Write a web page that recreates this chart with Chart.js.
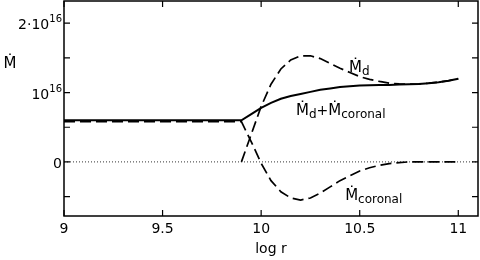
<!DOCTYPE html>
<html>
<head>
<meta charset="utf-8">
<script src="https://cdn.jsdelivr.net/npm/chart.js@4/dist/chart.umd.min.js"></script>
<style>
  html, body { margin: 0; padding: 0; background: #fff; }
  #wrap { width: 480px; height: 260px; }
</style>
</head>
<body>
<div id="wrap"><canvas id="mdotChart"></canvas></div>
<script>
// accretion rates, in units of 1e16
const logR = [9.0, 9.9, 9.95, 10.0, 10.05, 10.1, 10.15, 10.2, 10.25, 10.3, 10.35, 10.4, 10.45, 10.5, 10.55, 10.6, 10.65, 10.7, 10.75, 10.8, 10.85, 10.9, 10.95, 11.0];
const mdotTotal = [0.6, 0.6, 0.69, 0.78, 0.85, 0.91, 0.95, 0.98, 1.01, 1.04, 1.06, 1.08, 1.09, 1.10, 1.105, 1.11, 1.11, 1.115, 1.12, 1.125, 1.135, 1.15, 1.17, 1.20];
const mdotDisk = [null, 0, 0.4, 0.8, 1.12, 1.34, 1.47, 1.53, 1.53, 1.49, 1.42, 1.35, 1.29, 1.23, 1.19, 1.16, 1.135, 1.125, 1.12, 1.125, 1.135, 1.15, 1.17, 1.20];
const mdotCoronal = [0.58, 0.58, 0.29, -0.02, -0.27, -0.43, -0.52, -0.55, -0.52, -0.45, -0.36, -0.27, -0.2, -0.13, -0.085, -0.05, -0.025, -0.01, 0, 0, 0, 0, 0, 0];

const xRange = [9, 11.1];
const yRange = [-0.78, 2.32];
const xTicks = [9, 9.5, 10, 10.5, 11];
const yTicks = [-0.5, 0, 0.5, 1, 1.5, 2];
const yLabelValues = [0, 1, 2];
const yLabelBase = ['0', '10', '2\u00b710'];
const yLabelSup = ['', '16', '16'];
const zeroLine = [0, 0];

const FONT = '"DejaVu Sans", sans-serif';
const points = ys => logR.map((x, i) => ({ x, y: ys[i] }));

// M-dot with a subscript, returns x where it ends
function mdot(ctx, px, py, sub, size, subSize) {
    ctx.font = `${size}px ${FONT}`;
    ctx.fillText('\u1e40', px, py);
    const w = ctx.measureText('\u1e40').width;
    if (!sub) return px + w;
    ctx.font = `${subSize}px ${FONT}`;
    ctx.fillText(sub, px + w, py + 2.5);
    return px + w + ctx.measureText(sub).width;
}

const framePlugin = {
    id: 'frame',
    afterDatasetsDraw(chart) {
        const { ctx, chartArea: a, scales: { x, y } } = chart;
        ctx.save();
        ctx.strokeStyle = '#000';
        ctx.fillStyle = '#000';

        // box + inward ticks
        ctx.lineWidth = 1.5;
        ctx.strokeRect(a.left, a.top, a.right - a.left, a.bottom - a.top);
        ctx.lineWidth = 1.2;
        ctx.beginPath();
        xTicks.forEach(v => {
            const px = x.getPixelForValue(v);
            ctx.moveTo(px, a.bottom); ctx.lineTo(px, a.bottom - 6);
            ctx.moveTo(px, a.top); ctx.lineTo(px, a.top + 6);
        });
        yTicks.forEach(v => {
            const py = y.getPixelForValue(v);
            ctx.moveTo(a.left, py); ctx.lineTo(a.left + 6, py);
            ctx.moveTo(a.right, py); ctx.lineTo(a.right - 6, py);
        });
        ctx.stroke();

        // x tick labels
        ctx.font = `14px ${FONT}`;
        ctx.textAlign = 'center';
        ctx.textBaseline = 'alphabetic';
        xTicks.forEach(v => ctx.fillText(String(v), x.getPixelForValue(v), a.bottom + 17));
        ctx.fillText('log r', (a.left + a.right) / 2, a.bottom + 37);

        // y tick labels with exponents
        ctx.textAlign = 'right';
        yLabelValues.forEach((v, i) => {
            const py = y.getPixelForValue(v);
            const right = a.left - 2;
            let supW = 0;
            if (yLabelSup[i]) {
                ctx.font = `10px ${FONT}`;
                supW = ctx.measureText(yLabelSup[i]).width;
                ctx.fillText(yLabelSup[i], right, py - 1);
            }
            ctx.font = `14px ${FONT}`;
            ctx.fillText(yLabelBase[i], right - supW, py + 6);
        });

        // y axis title
        ctx.textAlign = 'center';
        ctx.font = `15px ${FONT}`;
        ctx.fillText('\u1e40', 10, 68);

        // curve annotations
        ctx.textAlign = 'left';
        mdot(ctx, x.getPixelForValue(10.446), y.getPixelForValue(1.29), 'd', 15, 12);
        let end = mdot(ctx, x.getPixelForValue(10.177), y.getPixelForValue(0.67), 'd', 15, 12);
        ctx.font = `14px ${FONT}`;
        ctx.fillText('+', end, y.getPixelForValue(0.67));
        end += ctx.measureText('+').width;
        mdot(ctx, end, y.getPixelForValue(0.67), 'coronal', 15, 12);
        mdot(ctx, x.getPixelForValue(10.426), y.getPixelForValue(-0.555), 'coronal', 15, 12);

        ctx.restore();
    }
};

new Chart(document.getElementById('mdotChart'), {
    type: 'line',
    data: {
        datasets: [
            {
                label: 'Md + Mcoronal',
                data: points(mdotTotal),
                borderColor: '#000',
                borderWidth: 2,
                pointRadius: 0
            },
            {
                label: 'Md',
                data: points(mdotDisk),
                borderColor: '#000',
                borderWidth: 1.7,
                borderDash: [11, 5],
                pointRadius: 0
            },
            {
                label: 'Mcoronal',
                data: points(mdotCoronal),
                borderColor: '#000',
                borderWidth: 1.7,
                borderDash: [11, 5],
                pointRadius: 0
            },
            {
                label: 'zero',
                data: xRange.map((x, i) => ({ x, y: zeroLine[i] })),
                borderColor: '#333',
                borderWidth: 1,
                borderDash: [1, 2],
                pointRadius: 0
            }
        ]
    },
    options: {
        responsive: true,
        maintainAspectRatio: false,
        animation: false,
        layout: { padding: { left: 0, right: 2, top: 1, bottom: 0 } },
        plugins: { legend: { display: false }, tooltip: { enabled: false } },
        scales: {
            x: {
                type: 'linear',
                min: xRange[0],
                max: xRange[1],
                ticks: { display: false },
                grid: { display: false },
                border: { display: false },
                afterFit: s => { s.height = 44; }
            },
            y: {
                min: yRange[0],
                max: yRange[1],
                ticks: { display: false },
                grid: { display: false },
                border: { display: false },
                afterFit: s => { s.width = 64; }
            }
        }
    },
    plugins: [framePlugin]
});
</script>
</body>
</html>
